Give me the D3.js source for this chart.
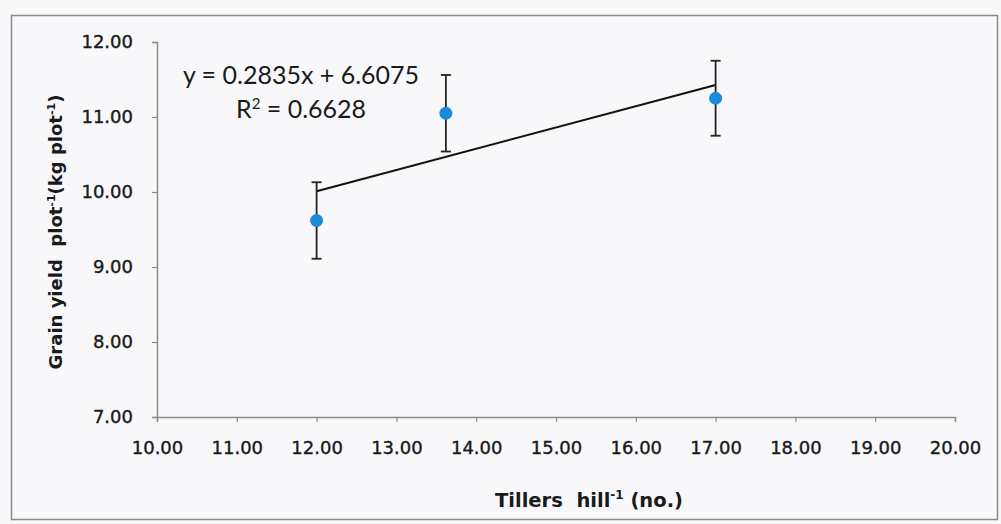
<!DOCTYPE html>
<html>
<head>
<meta charset="utf-8">
<script src="https://cdn.jsdelivr.net/npm/d3@7"></script>
<style>
  body { margin: 0; background: #f8f8fb; }
  text { fill: #1a1a1a; }
</style>
</head>
<body>
<script>
// tillers per hill vs grain yield, with error bars
const tillers = [12.0, 13.62, 17.0];
const grainYield = [9.62, 11.05, 11.25];
const yieldErr = [0.51, 0.51, 0.50];
const xTicks = [10, 11, 12, 13, 14, 15, 16, 17, 18, 19, 20];
const yTicks = [7, 8, 9, 10, 11, 12];
const slope = 0.2835, intercept = 6.6075, r2 = 0.6628;

const width = 1001, height = 524;
const margin = {top: 42, right: 46, bottom: 107, left: 157};
const axisFont = "'DejaVu Sans', Verdana, sans-serif";

const svg = d3.select("body")
    .append("svg")
    .attr("width", width)
    .attr("height", height);

// outer chart frame
svg.append("rect")
    .attr("x", 11.5)
    .attr("y", 15.5)
    .attr("width", 986)
    .attr("height", 504)
    .attr("fill", "#f8f8fb")
    .attr("stroke", "#8a8a8a")
    .attr("stroke-width", 1.5);

const x = d3.scaleLinear().domain([10, 20]).range([margin.left, width - margin.right]);
const y = d3.scaleLinear().domain([7, 12]).range([height - margin.bottom, margin.top]);

const xAxis = svg.append("g")
    .attr("transform", `translate(0,${y(7)})`)
    .call(d3.axisBottom(x).tickValues(xTicks).tickFormat(d3.format(".2f")).tickSizeOuter(0).tickSize(5).tickPadding(19));

const yAxis = svg.append("g")
    .attr("transform", `translate(${x(10)},0)`)
    .call(d3.axisLeft(y).tickValues(yTicks).tickFormat(d3.format(".2f")).tickSizeOuter(0).tickSize(5).tickPadding(19));

[xAxis, yAxis].forEach(g => {
    g.select(".domain").attr("stroke", "#8c8c8c").attr("stroke-width", 1.5);
    g.selectAll(".tick line").attr("stroke", "#8c8c8c").attr("stroke-width", 1.2);
    g.selectAll(".tick text")
        .attr("font-family", axisFont)
        .attr("font-size", 18)
        .attr("fill", "#1a1a1a")
        .attr("stroke", "#1a1a1a")
        .attr("stroke-width", 0.4);
});

// trendline over the data range
const xMin = d3.min(tillers), xMax = d3.max(tillers);
svg.append("line")
    .attr("x1", x(xMin)).attr("y1", y(slope * xMin + intercept))
    .attr("x2", x(xMax)).attr("y2", y(slope * xMax + intercept))
    .attr("stroke", "#111")
    .attr("stroke-width", 2);

const pts = tillers.map((t, i) => ({x: t, y: grainYield[i], e: yieldErr[i]}));

const bars = svg.append("g")
    .attr("stroke", "#222")
    .attr("stroke-width", 1.8);

bars.selectAll("line.v")
    .data(pts)
    .join("line")
    .attr("class", "v")
    .attr("x1", d => x(d.x)).attr("x2", d => x(d.x))
    .attr("y1", d => y(d.y - d.e)).attr("y2", d => y(d.y + d.e));

bars.selectAll("line.cap")
    .data(pts.flatMap(d => [d.y - d.e, d.y + d.e].map(v => ({x: d.x, v}))))
    .join("line")
    .attr("class", "cap")
    .attr("x1", d => x(d.x) - 5).attr("x2", d => x(d.x) + 5)
    .attr("y1", d => y(d.v)).attr("y2", d => y(d.v));

svg.append("g")
    .selectAll("circle")
    .data(pts)
    .join("circle")
    .attr("cx", d => x(d.x))
    .attr("cy", d => y(d.y))
    .attr("r", 6.5)
    .attr("fill", "#1b8ad8");

// regression equation
svg.append("text")
    .attr("x", 301).attr("y", 84)
    .attr("text-anchor", "middle")
    .attr("font-family", "Lato, sans-serif")
    .attr("font-size", 25)
    .text(`y = ${slope}x + ${intercept}`);

const r2Text = svg.append("text")
    .attr("x", 301).attr("y", 118)
    .attr("text-anchor", "middle")
    .attr("font-family", "Lato, sans-serif")
    .attr("font-size", 25);
r2Text.append("tspan").text("R");
r2Text.append("tspan").attr("dy", -9).attr("font-size", 15).text("2");
r2Text.append("tspan").attr("dy", 9).text(` = ${r2}`);

// axis titles
const xTitle = svg.append("text")
    .attr("x", 589).attr("y", 507)
    .attr("text-anchor", "middle")
    .attr("font-family", axisFont)
    .attr("font-size", 19.5)
    .attr("font-weight", 700)
    .style("white-space", "pre");
xTitle.append("tspan").text("Tillers  hill");
xTitle.append("tspan").attr("dy", -8).attr("font-size", 12).text("-1");
xTitle.append("tspan").attr("dy", 8).text(" (no.)");

const yTitle = svg.append("text")
    .attr("transform", "translate(62,232) rotate(-90)")
    .attr("text-anchor", "middle")
    .attr("font-family", axisFont)
    .attr("font-size", 18)
    .attr("font-weight", 700)
    .style("white-space", "pre");
yTitle.append("tspan").text("Grain yield  plot");
yTitle.append("tspan").attr("dy", -7).attr("font-size", 11).text("-1");
yTitle.append("tspan").attr("dy", 7).text("(kg plot");
yTitle.append("tspan").attr("dy", -7).attr("font-size", 11).text("-1");
yTitle.append("tspan").attr("dy", 7).text(")");
</script>
</body>
</html>
